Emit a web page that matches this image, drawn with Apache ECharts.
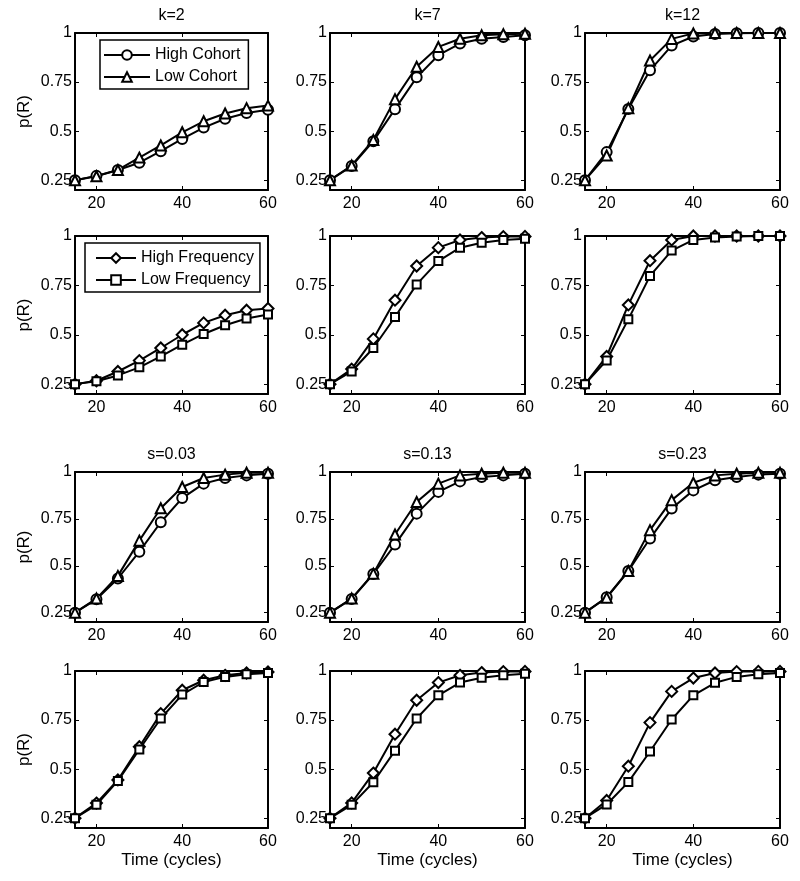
<!DOCTYPE html>
<html>
<head>
<meta charset="utf-8">
<script src="https://cdn.jsdelivr.net/npm/echarts@6/dist/echarts.min.js"></script>
<style>html,body{margin:0;padding:0;background:#fff;}#c{width:800px;height:881px;}</style>
</head>
<body>
<div id="c"></div>
<script>
const xValues = [15,20,25,30,35,40,45,50,55,60];
const xTicks = [20,40,60];
const yTicks = [0.25,0.5,0.75,1];
const topTitles = ['k=2','k=7','k=12'];
const midTitles = ['s=0.03','s=0.13','s=0.23'];

// Row 1: cohort, k
const k2High = [0.25,0.272,0.302,0.339,0.398,0.46,0.518,0.563,0.592,0.609];
const k2Low = [0.25,0.27,0.302,0.365,0.427,0.494,0.55,0.59,0.617,0.63];
const k7High = [0.25,0.322,0.449,0.612,0.774,0.887,0.946,0.971,0.98,0.988];
const k7Low = [0.25,0.325,0.455,0.663,0.828,0.929,0.971,0.988,0.994,0.996];
const k12High = [0.25,0.393,0.613,0.81,0.936,0.982,0.995,0.999,1,1];
const k12Low = [0.25,0.376,0.617,0.86,0.97,0.998,1,1,1,1];
// Row 2: frequency, k
const k2HighFreq = [0.25,0.267,0.314,0.369,0.433,0.5,0.56,0.599,0.624,0.633];
const k2LowFreq = [0.25,0.265,0.294,0.335,0.39,0.45,0.504,0.548,0.582,0.602];
const k7HighFreq = [0.25,0.326,0.479,0.675,0.848,0.941,0.98,0.992,0.997,0.998];
const k7LowFreq = [0.25,0.314,0.433,0.59,0.755,0.873,0.941,0.966,0.98,0.986];
const k12HighFreq = [0.25,0.39,0.651,0.875,0.98,1,1,1,1,1];
const k12LowFreq = [0.25,0.37,0.578,0.798,0.926,0.98,0.993,0.998,1,1];
// Row 3: cohort, s
const s03High = [0.25,0.321,0.432,0.575,0.732,0.861,0.938,0.968,0.982,0.991];
const s03Low = [0.25,0.325,0.446,0.634,0.807,0.92,0.968,0.986,0.996,0.996];
const s13High = [0.25,0.323,0.456,0.613,0.778,0.894,0.95,0.973,0.982,0.991];
const s13Low = [0.25,0.325,0.458,0.667,0.84,0.938,0.982,0.991,0.996,0.996];
const s23High = [0.25,0.332,0.472,0.645,0.805,0.902,0.956,0.973,0.986,0.991];
const s23Low = [0.25,0.33,0.472,0.69,0.85,0.943,0.982,0.991,0.996,0.996];
// Row 4: frequency, s
const s03HighFreq = [0.25,0.327,0.445,0.614,0.783,0.902,0.953,0.978,0.99,0.995];
const s03LowFreq = [0.25,0.318,0.44,0.6,0.758,0.88,0.944,0.97,0.983,0.99];
const s13HighFreq = [0.25,0.328,0.48,0.678,0.851,0.941,0.978,0.992,0.997,0.998];
const s13LowFreq = [0.25,0.318,0.433,0.594,0.758,0.876,0.941,0.966,0.978,0.986];
const s23HighFreq = [0.25,0.34,0.515,0.737,0.896,0.964,0.99,0.997,0.998,0.998];
const s23LowFreq = [0.25,0.32,0.434,0.59,0.753,0.876,0.94,0.97,0.983,0.99];

const panels = [
  [k2High,k2Low],[k7High,k7Low],[k12High,k12Low],
  [k2HighFreq,k2LowFreq],[k7HighFreq,k7LowFreq],[k12HighFreq,k12LowFreq],
  [s03High,s03Low],[s13High,s13Low],[s23High,s23Low],
  [s03HighFreq,s03LowFreq],[s13HighFreq,s13LowFreq],[s23HighFreq,s23LowFreq]
];
const cohortNames = ['High Cohort','Low Cohort'];
const freqNames = ['High Frequency','Low Frequency'];
const cohortSymbols = ['emptyCircle','emptyTriangle'];
const freqSymbols = ['emptyDiamond','emptyRect'];

const FONT = 'Liberation Sans, Arial, Helvetica, sans-serif';
const colLeft = [75,330,585];
const colWidth = [193,195,195];
const rowTop = [33,236,472,671];
const rowHeight = [157,158,150,157];
const symbolSizes = {emptyCircle: 10, emptyTriangle: 10, emptyDiamond: 11, emptyRect: 8};

const grids = [], xAxes = [], yAxes = [], series = [], titles = [];
for (let p = 0; p < 12; p++) {
  const r = Math.floor(p/3), c = p % 3;
  grids.push({left: colLeft[c], top: rowTop[r], width: colWidth[c], height: rowHeight[r], containLabel: false});
  const axLine = {show: true, onZero: false, lineStyle: {color: '#000', width: 2}};
  const xBase = {type: 'value', gridIndex: p, min: 15, max: 60, splitLine: {show: false}, axisLine: axLine};
  xAxes.push(Object.assign({}, xBase, {
    position: 'bottom',
    axisTick: {show: true, inside: true, length: 4, customValues: xTicks, lineStyle: {color: '#000', width: 1}},
    axisLabel: {show: true, customValues: xTicks, color: '#000', fontSize: 16, fontFamily: FONT, margin: 6},
    name: r === 3 ? 'Time (cycles)' : '',
    nameLocation: 'middle', nameGap: 24,
    nameTextStyle: {color: '#000', fontSize: 17, fontFamily: FONT}
  }));
  xAxes.push(Object.assign({}, xBase, {
    position: 'top',
    axisTick: {show: true, inside: true, length: 4, customValues: xTicks, lineStyle: {color: '#000', width: 1}},
    axisLabel: {show: false}
  }));
  const yBase = {type: 'value', gridIndex: p, min: 0.2, max: 1, splitLine: {show: false}, axisLine: axLine};
  yAxes.push(Object.assign({}, yBase, {
    position: 'left',
    axisTick: {show: true, inside: true, length: 4, customValues: yTicks, lineStyle: {color: '#000', width: 1}},
    axisLabel: {show: true, customValues: yTicks, color: '#000', fontSize: 16, fontFamily: FONT, margin: 3},
    name: c === 0 ? 'p(R)' : '',
    nameLocation: 'middle', nameGap: 42,
    nameTextStyle: {color: '#000', fontSize: 17, fontFamily: FONT}
  }));
  yAxes.push(Object.assign({}, yBase, {
    position: 'right',
    axisTick: {show: true, inside: true, length: 4, customValues: yTicks, lineStyle: {color: '#000', width: 1}},
    axisLabel: {show: false}
  }));
  const isFreq = (r === 1 || r === 3);
  const names = isFreq ? freqNames : cohortNames;
  const syms = isFreq ? freqSymbols : cohortSymbols;
  for (let s = 0; s < 2; s++) {
    const vals = panels[p][s];
    series.push({
      type: 'line', name: names[s], xAxisIndex: 2*p, yAxisIndex: 2*p,
      data: xValues.map((x, i) => [x, vals[i]]),
      symbol: syms[s], symbolSize: symbolSizes[syms[s]],
      showAllSymbol: true, clip: false, animation: false,
      lineStyle: {color: '#000', width: 2},
      itemStyle: {color: '#000', borderColor: '#000', borderWidth: 2},
      emphasis: {disabled: true}
    });
  }
  if (r === 0 || r === 2) {
    const txt = r === 0 ? topTitles[c] : midTitles[c];
    titles.push({
      text: txt, left: colLeft[c] + colWidth[c]/2, top: rowTop[r] - 25, textAlign: 'center', padding: 0,
      textStyle: {color: '#000', fontSize: 16, fontWeight: 'normal', fontFamily: FONT}
    });
  }
}

const legends = [
  {
    data: cohortNames, orient: 'vertical', left: 100, top: 40, itemWidth: 46, itemHeight: 12, itemGap: 6,
    padding: [7, 8, 4, 3], backgroundColor: '#fff', borderColor: '#000', borderWidth: 1.5,
    textStyle: {color: '#000', fontSize: 16, fontFamily: FONT}, selectedMode: false
  },
  {
    data: freqNames, orient: 'vertical', left: 85, top: 243, itemWidth: 40, itemHeight: 12, itemGap: 6,
    padding: [7, 6, 4, 10], backgroundColor: '#fff', borderColor: '#000', borderWidth: 1.5,
    textStyle: {color: '#000', fontSize: 16, fontFamily: FONT}, selectedMode: false
  }
];

const chart = echarts.init(document.getElementById('c'), null, {renderer: 'canvas'});
chart.setOption({
  backgroundColor: '#fff',
  animation: false,
  title: titles,
  legend: legends,
  grid: grids,
  xAxis: xAxes,
  yAxis: yAxes,
  series: series
});
</script>
</body>
</html>
